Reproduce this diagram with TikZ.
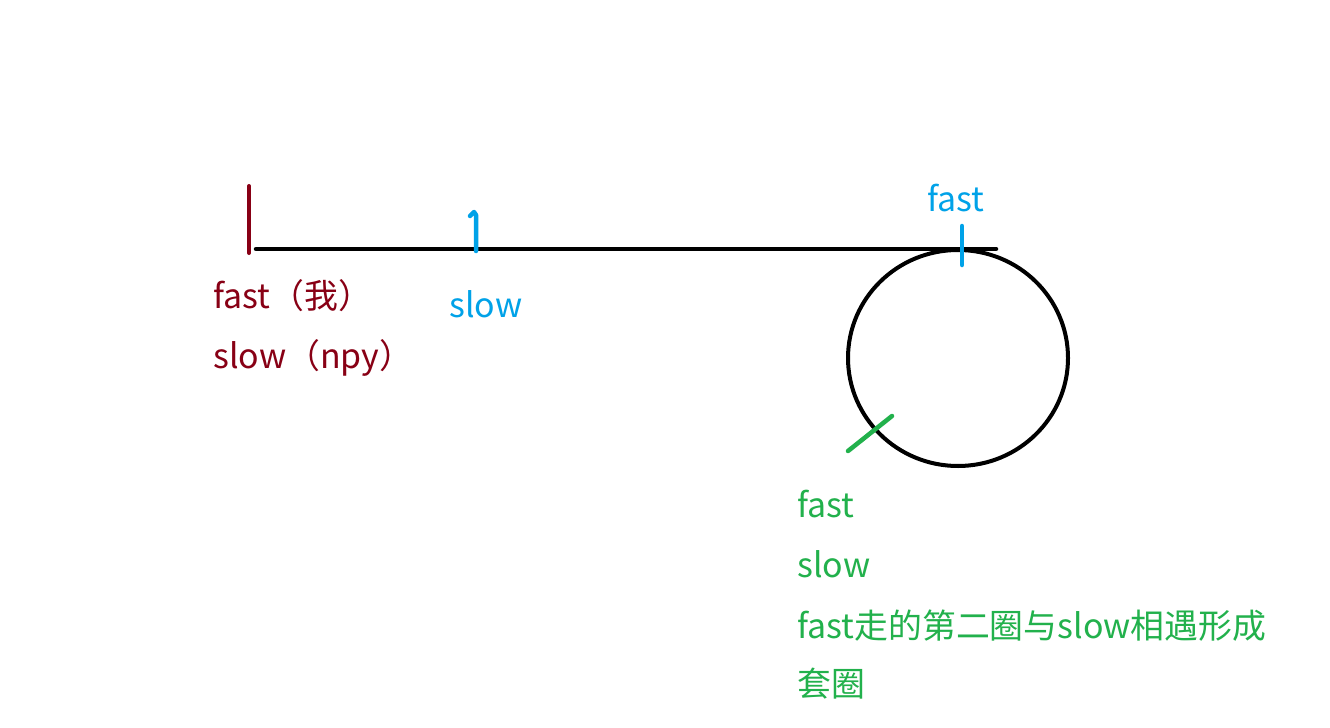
\documentclass[tikz,border=0pt]{standalone}
\usepackage{fontspec}
\setmainfont{Noto Sans CJK SC}
\definecolor{pmaroon}{HTML}{880015}
\definecolor{pblue}{HTML}{00A2E8}
\definecolor{pgreen}{HTML}{22B14C}
\begin{document}
\begin{tikzpicture}[x=1bp,y=-1bp,
  lbl/.style={anchor=base west,inner sep=0pt,font=\fontsize{34}{40}\selectfont},
  stroke/.style={line width=4.5bp,line cap=round,line join=round}]
\useasboundingbox[fill=white] (0,0) rectangle (1330,727);
% line and loop
\draw[stroke,black] (256,249) -- (996,249);
\draw[stroke,black,line width=4bp] (958,358) circle[x radius=110,y radius=108];
% marks
\draw[stroke,pmaroon,line width=4bp] (249,186) -- (249,253);
\draw[stroke,pblue] (470,216) -- (474,212) -- (476,215) -- (476,251);
\draw[stroke,pblue] (962,226) -- (962,265);
\draw[stroke,pgreen] (848,451) -- (892,416);
% labels
\node[lbl,text=pmaroon] (a1) at (213,308) {fast（我）};
\node[lbl,text=pmaroon] (a2) at (213,368) {slow（npy）};
\node[lbl,text=pblue] (b1) at (449,317) {slow};
\node[lbl,text=pblue] (b2) at (927,211) {fast};
\node[lbl,text=pgreen] (c1) at (797,517) {fast};
\node[lbl,text=pgreen] (c2) at (797,577) {slow};
\node[lbl,text=pgreen] (c3) at (797,638) {fast走的第二圈与slow相遇形成};
\node[lbl,text=pgreen] (c4) at (797,696) {套圈};
\end{tikzpicture}
\end{document}
